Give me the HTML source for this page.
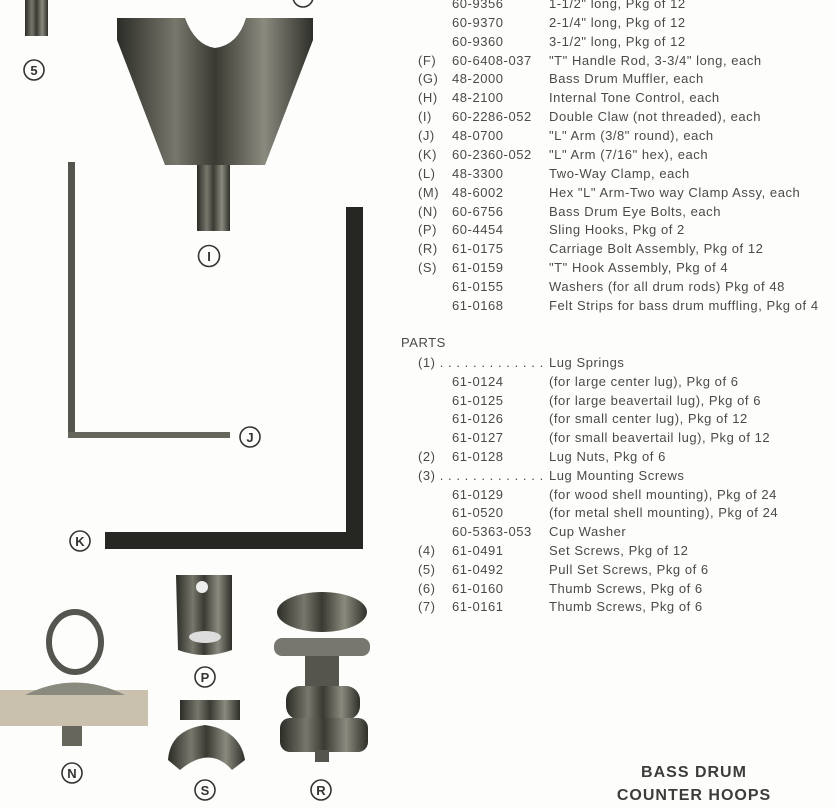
<!DOCTYPE html>
<html><head><meta charset="utf-8"><style>
html,body{margin:0;padding:0;background:#fdfdfb;}
body{width:835px;height:809px;position:relative;overflow:hidden;font-family:"Liberation Sans",Arial,sans-serif;color:#4a4a48;}
.t{position:absolute;font-size:13px;letter-spacing:0.55px;white-space:nowrap;line-height:14px;}
.h{position:absolute;font-weight:bold;font-size:16px;letter-spacing:1px;color:#3c3c3a;text-align:center;width:200px;}
</style></head><body>
<svg width="835" height="809" style="position:absolute;left:0;top:0">
<defs>
<linearGradient id="m" x1="0" x2="1"><stop offset="0" stop-color="#2d2d28"/><stop offset=".3" stop-color="#77776c"/><stop offset=".5" stop-color="#3a3a33"/><stop offset=".75" stop-color="#8a8a7e"/><stop offset="1" stop-color="#2f2f2a"/></linearGradient>
</defs>
<rect x="25" y="0" width="23" height="36" fill="url(#m)"/>
<path d="M117,18 L185,18 Q195,45 215,48 Q238,45 246,18 L313,18 L313,40 L265,165 L165,165 L117,40 Z" fill="url(#m)"/>
<rect x="197" y="165" width="33" height="66" fill="url(#m)"/>
<rect x="68" y="162" width="7" height="276" fill="#55554d"/>
<rect x="68" y="432" width="162" height="6" fill="#66665c"/>
<rect x="346" y="207" width="17" height="342" fill="#262622"/>
<rect x="105" y="532" width="258" height="17" fill="#262622"/>
<rect x="0" y="690" width="148" height="36" fill="#c9c0ad"/>
<path d="M25,695 Q75,670 125,695 Z" fill="#8a8a7e"/>
<ellipse cx="75" cy="642" rx="26" ry="30" fill="none" stroke="#555550" stroke-width="6"/>
<rect x="62" y="726" width="20" height="20" fill="#66665c"/>
<path d="M176,575 L232,575 L232,650 Q205,660 178,650 Z" fill="url(#m)"/>
<circle cx="202" cy="587" r="6" fill="#eee"/>
<ellipse cx="205" cy="637" rx="16" ry="6" fill="#ddd"/>
<rect x="180" y="700" width="60" height="20" fill="url(#m)"/>
<path d="M168,760 Q170,730 205,725 Q240,730 245,760 L232,770 Q210,745 180,770 Z" fill="url(#m)"/>
<ellipse cx="322" cy="612" rx="45" ry="20" fill="url(#m)"/>
<rect x="274" y="638" width="96" height="18" rx="8" fill="#777770"/>
<rect x="305" y="656" width="34" height="30" fill="#55554d"/>
<rect x="286" y="686" width="74" height="34" rx="14" fill="url(#m)"/>
<rect x="280" y="718" width="88" height="34" rx="10" fill="url(#m)"/>
<rect x="315" y="750" width="14" height="12" fill="#55554d"/>
<g fill="none" stroke="#333" stroke-width="1.6">
<circle cx="34" cy="70" r="10"/><circle cx="209" cy="256" r="10.5"/><circle cx="250" cy="437" r="10"/>
<circle cx="80" cy="541" r="10"/><circle cx="72" cy="773" r="10"/><circle cx="205" cy="677" r="10"/>
<circle cx="205" cy="790" r="10"/><circle cx="321" cy="790" r="10"/><circle cx="303" cy="-3" r="10"/>
</g>
<g font-family="Liberation Sans,sans-serif" font-size="13" font-weight="bold" fill="#333" text-anchor="middle">
<text x="34" y="75">5</text><text x="209" y="261">I</text><text x="250" y="442">J</text>
<text x="80" y="546">K</text><text x="72" y="778">N</text><text x="205" y="682">P</text>
<text x="205" y="795">S</text><text x="321" y="795">R</text>
</g>
</svg>
<div class="t" style="left:452px;top:-3px">60-9356</div><div class="t" style="left:549px;top:-3px">1-1/2" long, Pkg of 12</div>
<div class="t" style="left:452px;top:16px">60-9370</div><div class="t" style="left:549px;top:16px">2-1/4" long, Pkg of 12</div>
<div class="t" style="left:452px;top:35px">60-9360</div><div class="t" style="left:549px;top:35px">3-1/2" long, Pkg of 12</div>
<div class="t" style="left:418px;top:54px">(F)</div><div class="t" style="left:452px;top:54px">60-6408-037</div><div class="t" style="left:549px;top:54px">"T" Handle Rod, 3-3/4" long, each</div>
<div class="t" style="left:418px;top:72px">(G)</div><div class="t" style="left:452px;top:72px">48-2000</div><div class="t" style="left:549px;top:72px">Bass Drum Muffler, each</div>
<div class="t" style="left:418px;top:91px">(H)</div><div class="t" style="left:452px;top:91px">48-2100</div><div class="t" style="left:549px;top:91px">Internal Tone Control, each</div>
<div class="t" style="left:418px;top:110px">(I)</div><div class="t" style="left:452px;top:110px">60-2286-052</div><div class="t" style="left:549px;top:110px">Double Claw (not threaded), each</div>
<div class="t" style="left:418px;top:129px">(J)</div><div class="t" style="left:452px;top:129px">48-0700</div><div class="t" style="left:549px;top:129px">"L" Arm (3/8" round), each</div>
<div class="t" style="left:418px;top:148px">(K)</div><div class="t" style="left:452px;top:148px">60-2360-052</div><div class="t" style="left:549px;top:148px">"L" Arm (7/16" hex), each</div>
<div class="t" style="left:418px;top:167px">(L)</div><div class="t" style="left:452px;top:167px">48-3300</div><div class="t" style="left:549px;top:167px">Two-Way Clamp, each</div>
<div class="t" style="left:418px;top:186px">(M)</div><div class="t" style="left:452px;top:186px">48-6002</div><div class="t" style="left:549px;top:186px">Hex "L" Arm-Two way Clamp Assy, each</div>
<div class="t" style="left:418px;top:205px">(N)</div><div class="t" style="left:452px;top:205px">60-6756</div><div class="t" style="left:549px;top:205px">Bass Drum Eye Bolts, each</div>
<div class="t" style="left:418px;top:223px">(P)</div><div class="t" style="left:452px;top:223px">60-4454</div><div class="t" style="left:549px;top:223px">Sling Hooks, Pkg of 2</div>
<div class="t" style="left:418px;top:242px">(R)</div><div class="t" style="left:452px;top:242px">61-0175</div><div class="t" style="left:549px;top:242px">Carriage Bolt Assembly, Pkg of 12</div>
<div class="t" style="left:418px;top:261px">(S)</div><div class="t" style="left:452px;top:261px">61-0159</div><div class="t" style="left:549px;top:261px">"T" Hook Assembly, Pkg of 4</div>
<div class="t" style="left:452px;top:280px">61-0155</div><div class="t" style="left:549px;top:280px">Washers (for all drum rods) Pkg of 48</div>
<div class="t" style="left:452px;top:299px">61-0168</div><div class="t" style="left:549px;top:299px">Felt Strips for bass drum muffling, Pkg of 4</div>
<div class="t" style="left:401px;top:336px">PARTS</div>
<div class="t" style="left:418px;top:356px">(1) . . . . . . . . . . . . .</div><div class="t" style="left:549px;top:356px">Lug Springs</div>
<div class="t" style="left:452px;top:375px">61-0124</div><div class="t" style="left:549px;top:375px">(for large center lug), Pkg of 6</div>
<div class="t" style="left:452px;top:394px">61-0125</div><div class="t" style="left:549px;top:394px">(for large beavertail lug), Pkg of 6</div>
<div class="t" style="left:452px;top:412px">61-0126</div><div class="t" style="left:549px;top:412px">(for small center lug), Pkg of 12</div>
<div class="t" style="left:452px;top:431px">61-0127</div><div class="t" style="left:549px;top:431px">(for small beavertail lug), Pkg of 12</div>
<div class="t" style="left:418px;top:450px">(2)</div><div class="t" style="left:452px;top:450px">61-0128</div><div class="t" style="left:549px;top:450px">Lug Nuts, Pkg of 6</div>
<div class="t" style="left:418px;top:469px">(3) . . . . . . . . . . . . .</div><div class="t" style="left:549px;top:469px">Lug Mounting Screws</div>
<div class="t" style="left:452px;top:488px">61-0129</div><div class="t" style="left:549px;top:488px">(for wood shell mounting), Pkg of 24</div>
<div class="t" style="left:452px;top:506px">61-0520</div><div class="t" style="left:549px;top:506px">(for metal shell mounting), Pkg of 24</div>
<div class="t" style="left:452px;top:525px">60-5363-053</div><div class="t" style="left:549px;top:525px">Cup Washer</div>
<div class="t" style="left:418px;top:544px">(4)</div><div class="t" style="left:452px;top:544px">61-0491</div><div class="t" style="left:549px;top:544px">Set Screws, Pkg of 12</div>
<div class="t" style="left:418px;top:563px">(5)</div><div class="t" style="left:452px;top:563px">61-0492</div><div class="t" style="left:549px;top:563px">Pull Set Screws, Pkg of 6</div>
<div class="t" style="left:418px;top:582px">(6)</div><div class="t" style="left:452px;top:582px">61-0160</div><div class="t" style="left:549px;top:582px">Thumb Screws, Pkg of 6</div>
<div class="t" style="left:418px;top:600px">(7)</div><div class="t" style="left:452px;top:600px">61-0161</div><div class="t" style="left:549px;top:600px">Thumb Screws, Pkg of 6</div>
<div class="h" style="left:594px;top:764px">BASS DRUM</div>
<div class="h" style="left:594px;top:787px">COUNTER HOOPS</div>
</body></html>
